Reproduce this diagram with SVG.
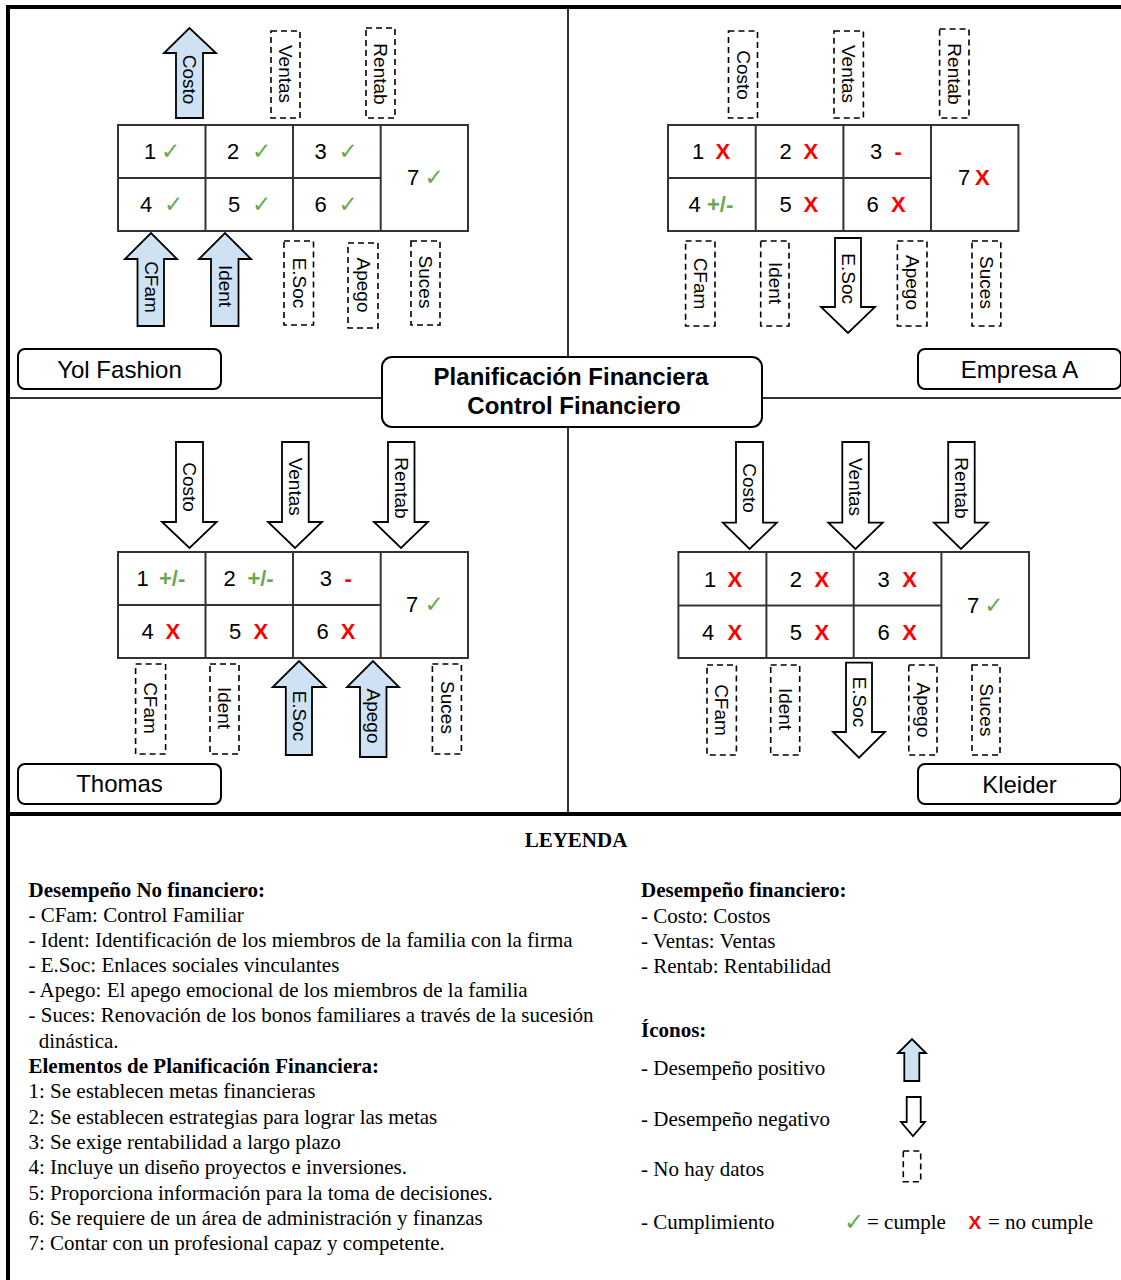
<svg xmlns="http://www.w3.org/2000/svg" width="1121" height="1280" viewBox="0 0 1121 1280">
<style>
.bg{fill:#ffffff}
.frame{stroke:#000;stroke-width:4;fill:none}
.div{stroke:#333;stroke-width:2;fill:none}
.tbl{fill:#fff;stroke:#333;stroke-width:2}
.tl{stroke:#333;stroke-width:2}
.dash{fill:#fff;stroke:#000;stroke-width:1.6;stroke-dasharray:6 4}
.up{fill:#cfe2f3;stroke:#000;stroke-width:1.8;stroke-linejoin:miter}
.dn{fill:#fff;stroke:#000;stroke-width:1.8;stroke-linejoin:miter}
.lbl{font-family:"Liberation Sans",Arial,sans-serif;font-size:19px;fill:#000;text-anchor:middle}
.d{font-family:"Liberation Sans",Arial,sans-serif;font-size:22px;fill:#000}
.ok{font-family:"DejaVu Sans",sans-serif;font-size:23px;fill:#6aa84f}
.no{font-family:"Liberation Sans",Arial,sans-serif;font-size:22px;font-weight:bold;fill:#ff0000}
.pm{font-family:"Liberation Sans",Arial,sans-serif;font-size:22px;font-weight:bold;fill:#6aa84f}
.box{fill:#fff;stroke:#000;stroke-width:2}
.name{font-family:"Liberation Sans",Arial,sans-serif;font-size:24px;fill:#000;text-anchor:middle}
.title{font-family:"Liberation Sans",Arial,sans-serif;font-size:24px;font-weight:bold;fill:#000;text-anchor:middle}
.lg{font-family:"Liberation Serif","Times New Roman",serif;font-size:21px;fill:#000}
.lgb{font-family:"Liberation Serif","Times New Roman",serif;font-size:21px;font-weight:bold;fill:#000}
</style>
<rect class="bg" x="0" y="0" width="1121" height="1280"/>

<g id="frame">
<line class="frame" x1="6" y1="7" x2="1121" y2="7"/>
<line class="frame" x1="8" y1="5" x2="8" y2="1280"/>
<line class="frame" x1="8" y1="814" x2="1121" y2="814"/>
</g>

<g id="connectors">
<line class="div" x1="568" y1="9" x2="568" y2="357"/>
<line class="div" x1="568" y1="427" x2="568" y2="812"/>
<line class="div" x1="10" y1="398" x2="382" y2="398"/>
<line class="div" x1="762" y1="398" x2="1121" y2="398"/>
</g>

<g id="center-title">
<rect class="box" x="382" y="357" width="380" height="70" rx="10"/>
<text class="title" x="571" y="385">Planificación Financiera</text>
<text class="title" x="574" y="414">Control Financiero</text>
</g>

<!-- Yol Fashion -->
<g id="yol-fashion">
<rect class="tbl" x="118" y="125" width="350" height="106"/>
<line class="tl" x1="205.5" y1="125" x2="205.5" y2="231"/>
<line class="tl" x1="293" y1="125" x2="293" y2="231"/>
<line class="tl" x1="380.7" y1="125" x2="380.7" y2="231"/>
<line class="tl" x1="118" y1="178" x2="380.7" y2="178"/>
<text class="d" x="144" y="159">1</text><text class="ok" x="161" y="159">✓</text>
<text class="d" x="227" y="159">2</text><text class="ok" x="252" y="159">✓</text>
<text class="d" x="314.5" y="159">3</text><text class="ok" x="338.5" y="159">✓</text>
<text class="d" x="140" y="212">4</text><text class="ok" x="164" y="212">✓</text>
<text class="d" x="228" y="212">5</text><text class="ok" x="252" y="212">✓</text>
<text class="d" x="314.5" y="212">6</text><text class="ok" x="338.5" y="212">✓</text>
<text class="d" x="407" y="185">7</text><text class="ok" x="424.5" y="185">✓</text>
<path class="up" d="M176,118 L176,53 L164,53 L189.5,28 L216,53 L203,53 L203,118 Z"/>
<rect class="dash" x="271" y="31" width="29" height="87"/>
<rect class="dash" x="366" y="28" width="29" height="90"/>
<path class="up" d="M137.5,326 L137.5,259 L125,259 L151,233 L177,259 L164,259 L164,326 Z"/>
<path class="up" d="M211,326 L211,259 L199,259 L225,233 L251,259 L238.5,259 L238.5,326 Z"/>
<rect class="dash" x="284" y="241" width="29.5" height="84"/>
<rect class="dash" x="348" y="243" width="30" height="85"/>
<rect class="dash" x="411" y="241" width="29" height="84"/>
<text class="lbl" transform="translate(189.5,79.5) rotate(90)" y="6.5">Costo</text>
<text class="lbl" transform="translate(285.5,74) rotate(90)" y="6.5">Ventas</text>
<text class="lbl" transform="translate(380.5,74) rotate(90)" y="6.5">Rentab</text>
<text class="lbl" transform="translate(151,287) rotate(90)" y="6.5">CFam</text>
<text class="lbl" transform="translate(225,286) rotate(90)" y="6.5">Ident</text>
<text class="lbl" transform="translate(299,283) rotate(90)" y="6.5">E.Soc</text>
<text class="lbl" transform="translate(363,285) rotate(90)" y="6.5">Apego</text>
<text class="lbl" transform="translate(425.5,282) rotate(90)" y="6.5">Suces</text>
<rect class="box" x="18" y="349" width="203" height="40" rx="7"/>
<text class="name" x="119.5" y="378">Yol Fashion</text>
</g>

<!-- Empresa A -->
<g id="empresa-a">
<rect class="tbl" x="668" y="125" width="350.4" height="106"/>
<line class="tl" x1="755.7" y1="125" x2="755.7" y2="231"/>
<line class="tl" x1="843.4" y1="125" x2="843.4" y2="231"/>
<line class="tl" x1="931" y1="125" x2="931" y2="231"/>
<line class="tl" x1="668" y1="178" x2="931" y2="178"/>
<text class="d" x="692" y="159">1</text><text class="no" x="715.5" y="159">X</text>
<text class="d" x="779.5" y="159">2</text><text class="no" x="803.5" y="159">X</text>
<text class="d" x="870" y="159">3</text><text class="no" x="894.5" y="159">-</text>
<text class="d" x="688.5" y="212">4</text><text class="pm" x="707" y="212">+/-</text>
<text class="d" x="779.5" y="212">5</text><text class="no" x="803.5" y="212">X</text>
<text class="d" x="866.5" y="212">6</text><text class="no" x="891" y="212">X</text>
<text class="d" x="958" y="185">7</text><text class="no" x="975" y="185">X</text>
<rect class="dash" x="728.5" y="31" width="29" height="87"/>
<rect class="dash" x="834" y="31" width="29.4" height="87"/>
<rect class="dash" x="939.6" y="29" width="29.4" height="89"/>
<rect class="dash" x="685.6" y="241" width="29.4" height="85"/>
<rect class="dash" x="760.7" y="241" width="28.3" height="85"/>
<path class="dn" d="M835,238 L835,307 L821,307 L848,333 L875,307 L861,307 L861,238 Z"/>
<rect class="dash" x="897.4" y="241" width="29.6" height="85"/>
<rect class="dash" x="972" y="241" width="28.8" height="85"/>
<text class="lbl" transform="translate(743,75) rotate(90)" y="6.5">Costo</text>
<text class="lbl" transform="translate(848.7,74) rotate(90)" y="6.5">Ventas</text>
<text class="lbl" transform="translate(954.3,74) rotate(90)" y="6.5">Rentab</text>
<text class="lbl" transform="translate(700.3,283.5) rotate(90)" y="6.5">CFam</text>
<text class="lbl" transform="translate(775,283) rotate(90)" y="6.5">Ident</text>
<text class="lbl" transform="translate(848,278.7) rotate(90)" y="6.5">E.Soc</text>
<text class="lbl" transform="translate(912,282.5) rotate(90)" y="6.5">Apego</text>
<text class="lbl" transform="translate(986.4,282.5) rotate(90)" y="6.5">Suces</text>
<rect class="box" x="918" y="349" width="203" height="40" rx="7"/>
<text class="name" x="1019.5" y="378">Empresa A</text>
</g>

<!-- Thomas -->
<g id="thomas">
<rect class="tbl" x="118" y="552" width="350" height="106"/>
<line class="tl" x1="205.5" y1="552" x2="205.5" y2="658"/>
<line class="tl" x1="293" y1="552" x2="293" y2="658"/>
<line class="tl" x1="380.7" y1="552" x2="380.7" y2="658"/>
<line class="tl" x1="118" y1="605" x2="380.7" y2="605"/>
<text class="d" x="136.5" y="586">1</text><text class="pm" x="159" y="586">+/-</text>
<text class="d" x="223.4" y="586">2</text><text class="pm" x="247.4" y="586">+/-</text>
<text class="d" x="319.7" y="586">3</text><text class="no" x="344.5" y="586">-</text>
<text class="d" x="141.5" y="639">4</text><text class="no" x="165.5" y="639">X</text>
<text class="d" x="229" y="639">5</text><text class="no" x="253.5" y="639">X</text>
<text class="d" x="316.5" y="639">6</text><text class="no" x="340.8" y="639">X</text>
<text class="d" x="406" y="612">7</text><text class="ok" x="424.5" y="612">✓</text>
<path class="dn" d="M176,442 L176,522 L162,522 L189.5,548 L216.7,522 L203,522 L203,442 Z"/>
<path class="dn" d="M282,442 L282,522 L268,522 L295,548 L322,522 L308.7,522 L308.7,442 Z"/>
<path class="dn" d="M388,442 L388,522 L374,522 L401,548 L428,522 L414.5,522 L414.5,442 Z"/>
<rect class="dash" x="135.6" y="664" width="30" height="90"/>
<rect class="dash" x="210" y="664" width="29" height="90"/>
<path class="up" d="M285.8,755 L285.8,687 L272.7,687 L299,661 L325.5,687 L312,687 L312,755 Z"/>
<path class="up" d="M360,757 L360,687 L347,687 L373,661 L399,687 L386.5,687 L386.5,757 Z"/>
<rect class="dash" x="432.4" y="664" width="29" height="90"/>
<text class="lbl" transform="translate(189.5,487) rotate(90)" y="6.5">Costo</text>
<text class="lbl" transform="translate(295.3,486.7) rotate(90)" y="6.5">Ventas</text>
<text class="lbl" transform="translate(401.2,488) rotate(90)" y="6.5">Rentab</text>
<text class="lbl" transform="translate(150.6,708) rotate(90)" y="6.5">CFam</text>
<text class="lbl" transform="translate(224.5,708) rotate(90)" y="6.5">Ident</text>
<text class="lbl" transform="translate(299,716) rotate(90)" y="6.5">E.Soc</text>
<text class="lbl" transform="translate(373.2,716) rotate(90)" y="6.5">Apego</text>
<text class="lbl" transform="translate(447,707.5) rotate(90)" y="6.5">Suces</text>
<rect class="box" x="18" y="764" width="203" height="40" rx="7"/>
<text class="name" x="119.5" y="792">Thomas</text>
</g>

<!-- Kleider -->
<g id="kleider">
<rect class="tbl" x="678.4" y="552" width="350.6" height="106"/>
<line class="tl" x1="766.4" y1="552" x2="766.4" y2="658"/>
<line class="tl" x1="853.7" y1="552" x2="853.7" y2="658"/>
<line class="tl" x1="941.4" y1="552" x2="941.4" y2="658"/>
<line class="tl" x1="678.4" y1="605.5" x2="941.4" y2="605.5"/>
<text class="d" x="704" y="587">1</text><text class="no" x="727.5" y="587">X</text>
<text class="d" x="789.8" y="587">2</text><text class="no" x="814.5" y="587">X</text>
<text class="d" x="877.4" y="587">3</text><text class="no" x="902.2" y="587">X</text>
<text class="d" x="702" y="640">4</text><text class="no" x="727.5" y="640">X</text>
<text class="d" x="789.8" y="640">5</text><text class="no" x="814.5" y="640">X</text>
<text class="d" x="877.4" y="640">6</text><text class="no" x="902.2" y="640">X</text>
<text class="d" x="967" y="613">7</text><text class="ok" x="984.3" y="613">✓</text>
<path class="dn" d="M736,442 L736,522.6 L722.8,522.6 L749.6,549 L776.8,522.6 L763,522.6 L763,442 Z"/>
<path class="dn" d="M842.3,442 L842.3,522.6 L828.3,522.6 L855.5,549 L882.7,522.6 L868.8,522.6 L868.8,442 Z"/>
<path class="dn" d="M948.2,442 L948.2,522.6 L934,522.6 L961,549 L988,522.6 L974.7,522.6 L974.7,442 Z"/>
<rect class="dash" x="707" y="665" width="29.4" height="90"/>
<rect class="dash" x="770.7" y="665" width="29" height="90"/>
<path class="dn" d="M846,662.6 L846,732 L833,732 L859,757.7 L885,732 L872,732 L872,662.6 Z"/>
<rect class="dash" x="908.8" y="665" width="28.2" height="90"/>
<rect class="dash" x="972" y="665" width="28" height="90"/>
<text class="lbl" transform="translate(749.5,488) rotate(90)" y="6.5">Costo</text>
<text class="lbl" transform="translate(855.5,487) rotate(90)" y="6.5">Ventas</text>
<text class="lbl" transform="translate(961.5,488) rotate(90)" y="6.5">Rentab</text>
<text class="lbl" transform="translate(721.7,710) rotate(90)" y="6.5">CFam</text>
<text class="lbl" transform="translate(785.2,709) rotate(90)" y="6.5">Ident</text>
<text class="lbl" transform="translate(859,702) rotate(90)" y="6.5">E.Soc</text>
<text class="lbl" transform="translate(923,710) rotate(90)" y="6.5">Apego</text>
<text class="lbl" transform="translate(986,710) rotate(90)" y="6.5">Suces</text>
<rect class="box" x="918" y="764" width="203" height="40" rx="7"/>
<text class="name" x="1019.5" y="793">Kleider</text>
</g>

<!-- Legend -->
<g id="legend">
<text class="lgb" x="576" y="847" text-anchor="middle">LEYENDA</text>
<text class="lgb" x="28.5" y="897">Desempeño No financiero:</text>
<text class="lg" x="28.5" y="922">- CFam: Control Familiar</text>
<text class="lg" x="28.5" y="947">- Ident: Identificación  de los miembros de la familia  con la firma</text>
<text class="lg" x="28.5" y="972">- E.Soc: Enlaces sociales vinculantes</text>
<text class="lg" x="28.5" y="997">- Apego: El apego emocional de los miembros de la familia</text>
<text class="lg" x="28.5" y="1022">- Suces: Renovación de los bonos familiares  a través de la sucesión</text>
<text class="lg" x="38.7" y="1048">dinástica.</text>
<text class="lgb" x="28.5" y="1073">Elementos de Planificación Financiera:</text>
<text class="lg" x="28.5" y="1098">1: Se establecen metas financieras</text>
<text class="lg" x="28.5" y="1124">2: Se establecen estrategias para lograr las metas</text>
<text class="lg" x="28.5" y="1149">3: Se exige rentabilidad a largo plazo</text>
<text class="lg" x="28.5" y="1174">4: Incluye un diseño proyectos e inversiones.</text>
<text class="lg" x="28.5" y="1200">5: Proporciona información para la toma de decisiones.</text>
<text class="lg" x="28.5" y="1225">6: Se requiere de un área de administración y finanzas</text>
<text class="lg" x="28.5" y="1250">7: Contar con un profesional capaz y competente.</text>

<text class="lgb" x="641" y="897">Desempeño financiero:</text>
<text class="lg" x="641" y="923">- Costo: Costos</text>
<text class="lg" x="641" y="948">- Ventas: Ventas</text>
<text class="lg" x="641" y="973">- Rentab: Rentabilidad</text>
<text class="lgb" x="641" y="1037">Íconos:</text>
<text class="lg" x="641" y="1075">- Desempeño positivo</text>
<text class="lg" x="641" y="1126">- Desempeño negativo</text>
<text class="lg" x="641" y="1176">- No hay datos</text>
<text class="lg" x="641" y="1229">- Cumplimiento</text>
<path class="up" d="M904.3,1081 L904.3,1053 L898,1053 L912,1039 L926,1053 L919.3,1053 L919.3,1081 Z"/>
<path class="dn" d="M906.7,1097 L906.7,1122 L901,1122 L913,1136 L925,1122 L920.7,1122 L920.7,1097 Z"/>
<rect class="dash" x="903.3" y="1151" width="17.4" height="30.7"/>
<text class="ok" x="844" y="1230" style="font-size:24px">✓</text>
<text class="lg" x="867" y="1229">= cumple</text>
<text class="no" x="968.5" y="1229" style="font-size:19px">X</text>
<text class="lg" x="988" y="1229">= no cumple</text>
</g>
</svg>
